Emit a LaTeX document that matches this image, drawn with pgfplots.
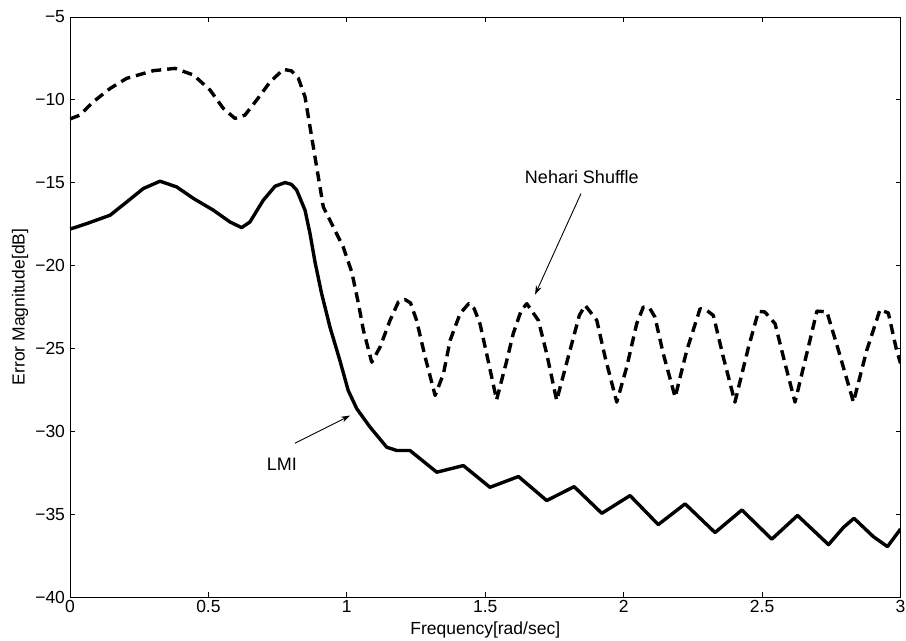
\documentclass[border=0pt]{standalone}
\usepackage{fontspec}
\setmainfont{Liberation Sans}
\usepackage{pgfplots}
\pgfplotsset{compat=1.18}
\usetikzlibrary{arrows.meta}
\begin{document}
\fontsize{17.5bp}{21bp}\selectfont
\begin{tikzpicture}
\begin{axis}[
  scale only axis, width=830.5bp, height=580bp,
  xmin=0, xmax=3, ymin=-40, ymax=-5,
  xtick={0,0.5,1,1.5,2,2.5,3}, xticklabels={0,0.5,1,1.5,2,2.5,3},
  ytick={-40,-35,-30,-25,-20,-15,-10,-5},
  yticklabels={−40,−35,−30,−25,−20,−15,−10,−5},
  tick align=inside, major tick length=5bp,
  axis line style={line width=0.9bp},
  every tick/.style={line width=0.8bp,black},
  tick label style={font=\fontsize{17.5bp}{21bp}\selectfont},
  xticklabel style={yshift=2.5bp},
  yticklabel style={xshift=1bp},
  label style={font=\fontsize{17.5bp}{21bp}\selectfont},
  every axis x label/.style={at={(axis description cs:0.5,-0.0569)},anchor=center},
  every axis y label/.style={at={(axis description cs:-0.0602,0.5)},anchor=center,rotate=90},
  xlabel={Frequency[rad/sec]},
  ylabel={Error Magnitude[dB]},
  clip=true,
]
\addplot[black, line width=3.4bp, dash pattern=on 10bp off 6bp, line join=round] coordinates {
(0.0,-11.15) (0.036,-10.92) (0.084,-10.12) (0.145,-9.31) (0.205,-8.70) (0.301,-8.24)
(0.379,-8.10) (0.446,-8.50) (0.506,-9.41) (0.554,-10.52) (0.596,-11.12) (0.632,-10.92)
(0.674,-10.02) (0.723,-8.91) (0.771,-8.16) (0.800,-8.25) (0.825,-8.70) (0.849,-9.82)
(0.867,-11.63) (0.891,-14.05) (0.915,-16.46) (0.951,-17.67) (0.987,-18.88) (1.018,-20.4)
(1.042,-22.30) (1.060,-23.91) (1.090,-25.83) (1.120,-24.92) (1.156,-23.31) (1.186,-22.20)
(1.210,-22.05) (1.230,-22.25) (1.252,-23.31) (1.283,-25.53) (1.319,-27.84) (1.349,-26.53)
(1.373,-24.52) (1.409,-22.90) (1.440,-22.30) (1.460,-22.6) (1.481,-23.51) (1.505,-25.32)
(1.541,-28.1) (1.578,-25.72) (1.601,-24.11) (1.630,-22.7) (1.650,-22.30) (1.692,-23.31)
(1.722,-25.32) (1.758,-28.14) (1.806,-25.12) (1.840,-23.0) (1.861,-22.40) (1.903,-23.31)
(1.933,-25.53) (1.975,-28.24) (2.011,-26.13) (2.047,-23.51) (2.071,-22.50) (2.095,-22.6)
(2.113,-23.11) (2.143,-25.32) (2.186,-27.94) (2.228,-25.12) (2.276,-22.60) (2.300,-22.7)
(2.324,-23.01) (2.360,-25.53) (2.402,-28.24) (2.451,-24.92) (2.487,-22.76) (2.510,-22.8)
(2.547,-23.51) (2.583,-25.92) (2.619,-28.24) (2.667,-24.92) (2.698,-22.75) (2.734,-22.79)
(2.776,-25.12) (2.830,-28.24) (2.878,-25.12) (2.926,-22.66) (2.956,-22.86) (2.986,-25.12)
(3.0,-25.9)
};
\addplot[black, line width=3.4bp, line join=round] coordinates {
(0.0,-17.8) (0.060,-17.47) (0.145,-16.96) (0.205,-16.16) (0.265,-15.35) (0.325,-14.91)
(0.385,-15.25) (0.446,-15.95) (0.518,-16.66) (0.578,-17.37) (0.620,-17.71) (0.650,-17.37)
(0.698,-16.06) (0.741,-15.21) (0.777,-14.99) (0.800,-15.1) (0.819,-15.45) (0.849,-16.66)
(0.867,-18.07) (0.885,-19.78) (0.909,-21.70) (0.939,-23.71) (0.975,-25.73) (1.005,-27.54)
(1.036,-28.64) (1.084,-29.75) (1.144,-30.96) (1.180,-31.16) (1.228,-31.16) (1.325,-32.47)
(1.421,-32.07) (1.517,-33.38) (1.620,-32.73) (1.722,-34.18) (1.821,-33.34) (1.921,-34.95)
(2.023,-33.88) (2.125,-35.63) (2.222,-34.38) (2.330,-36.11) (2.427,-34.75) (2.535,-36.51)
(2.628,-35.08) (2.740,-36.84) (2.794,-35.80) (2.832,-35.25) (2.902,-36.36) (2.953,-36.96)
(3.0,-35.9)
};
\node[font=\fontsize{18bp}{21bp}\selectfont] at (axis cs:1.849,-14.65) {Nehari Shuffle};
\draw[line width=0.9bp, -{Stealth[length=9bp,width=6bp]}] (axis cs:1.846,-15.65) -- (axis cs:1.680,-21.75);
\node[font=\fontsize{18bp}{21bp}\selectfont] at (axis cs:0.765,-32.01) {LMI};
\draw[line width=0.9bp, -{Stealth[length=9bp,width=6bp]}] (axis cs:0.813,-30.72) -- (axis cs:1.012,-29.05);
\end{axis}
\pgfresetboundingbox
\path ([xshift=-70bp,yshift=-44bp]current axis.south west) rectangle ([xshift=5.5bp,yshift=17bp]current axis.north east);
\end{tikzpicture}
\end{document}
